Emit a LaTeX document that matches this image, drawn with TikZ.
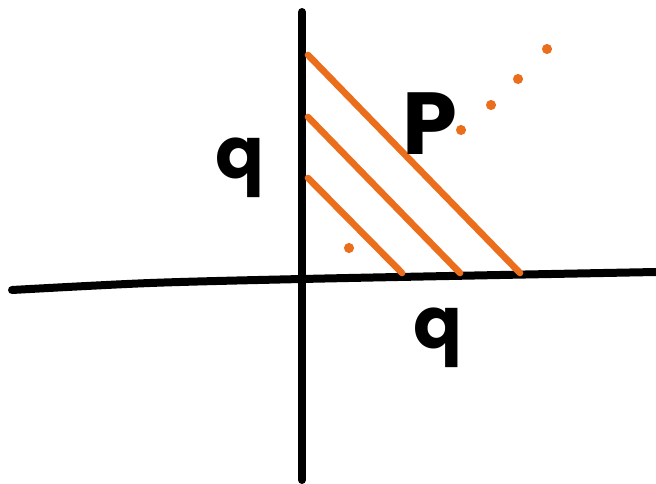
\documentclass[tikz,border=0pt]{standalone}
\usepackage{fontspec}
\setmainfont{Poppins}
\usepackage{xcolor}
\usepackage{tikz}
\definecolor{sketchorange}{RGB}{234,110,28}
\tikzset{
  axis/.style={line width=6pt, line cap=round, black},
  hatch/.style={line width=5pt, line cap=round, sketchorange},
  letter/.style={font=\fontsize{54}{60}\selectfont\bfseries, inner sep=0pt}
}

\begin{document}
\begin{tikzpicture}[x=0.75pt, y=-0.75pt]
    \useasboundingbox (0,0) rectangle (656,484);
    % Axes
    \draw[axis] (302,12) -- (302,480);
    \draw[axis] plot[smooth] coordinates {(12,290) (150,283) (302,279) (500,275) (656,272)};
    % Hatching of the region
    \foreach \ya/\xb in {55/520, 117/460, 178/402} {
      \draw[hatch] (308,\ya) -- (\xb,273);
    }
    % Dots
    \foreach \x/\y in {349/248, 461/130, 491/105, 518/79, 547/49} {
      \fill[sketchorange] (\x,\y) circle (3.8pt);
    }
    % Labels
    \node[letter] (qleft) at (240,168) {q};
    \node[letter, font=\fontsize{66}{70}\selectfont\bfseries] (pset) at (430,124) {P};
    \node[letter] (qbottom) at (438,338) {q};
  \end{tikzpicture}
\end{document}
